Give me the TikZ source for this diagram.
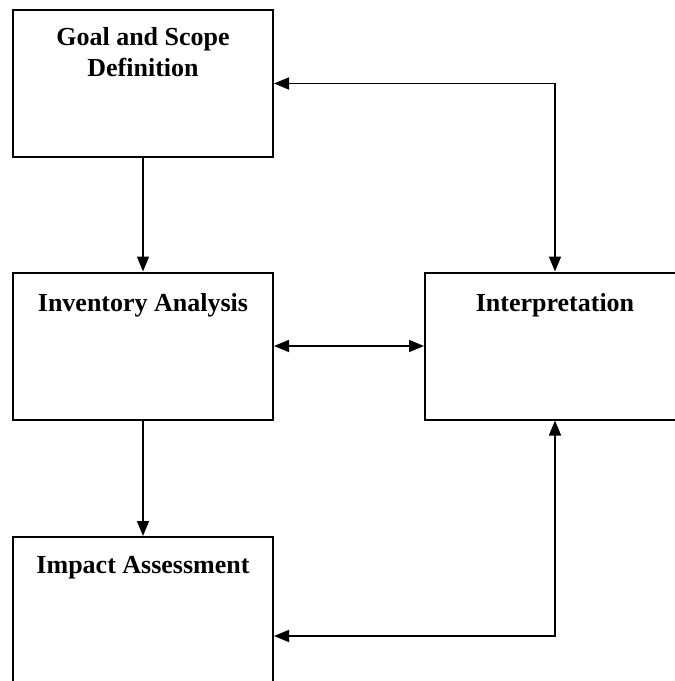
\documentclass[tikz,border=0pt]{standalone}
\usepackage{fontspec}
\setmainfont{Liberation Serif}
\usetikzlibrary{positioning}
\usetikzlibrary{arrows.meta}

\tikzset{
stagebox/.style={draw=black, line width=2pt, minimum width=260pt, minimum height=147pt, inner sep=0pt},
stagetext/.style={font=\fontsize{26}{31}\selectfont\bfseries, align=center, anchor=north},
flow/.style={black, line width=1.6pt, -{Triangle[length=15pt,width=12pt]}},
flowboth/.style={black, line width=1.6pt, {Triangle[length=15pt,width=12pt]}-{Triangle[length=15pt,width=12pt]}}
}

\begin{document}
\begin{tikzpicture}[x=1pt,y=-1pt]
\useasboundingbox (0,0) rectangle (675,681);
\clip (0,0) rectangle (675,681);

%boxes
\node[stagebox] (goal) at (143,83.5) {};
\node[stagebox] (inventory) at (143,346) {};
\node[stagebox] (interp) at (555,346) {};
\node[stagebox] (impact) at (143,610.5) {};

%texts
\node[stagetext] (goaltxt) at ([yshift=-15pt]goal.north) {Goal and Scope\\Definition};
\node[stagetext] (inventorytxt) at ([yshift=-18pt]inventory.north) {Inventory Analysis};
\node[stagetext] (interptxt) at ([yshift=-18pt]interp.north) {Interpretation};
\node[stagetext] (impacttxt) at ([yshift=-17pt]impact.north) {Impact Assessment};

%arrows
\draw[flow] (goal.south) -- (inventory.north);
\draw[flow] (inventory.south) -- (impact.north);
\draw[flowboth] (inventory.east) -- (interp.west);
\draw[flowboth] (goal.east) -| (interp.north);
\coordinate (impactin) at ([yshift=-25.5pt]impact.east);
\draw[flowboth] (impactin) -| (interp.south);

\end{tikzpicture}
\end{document}
